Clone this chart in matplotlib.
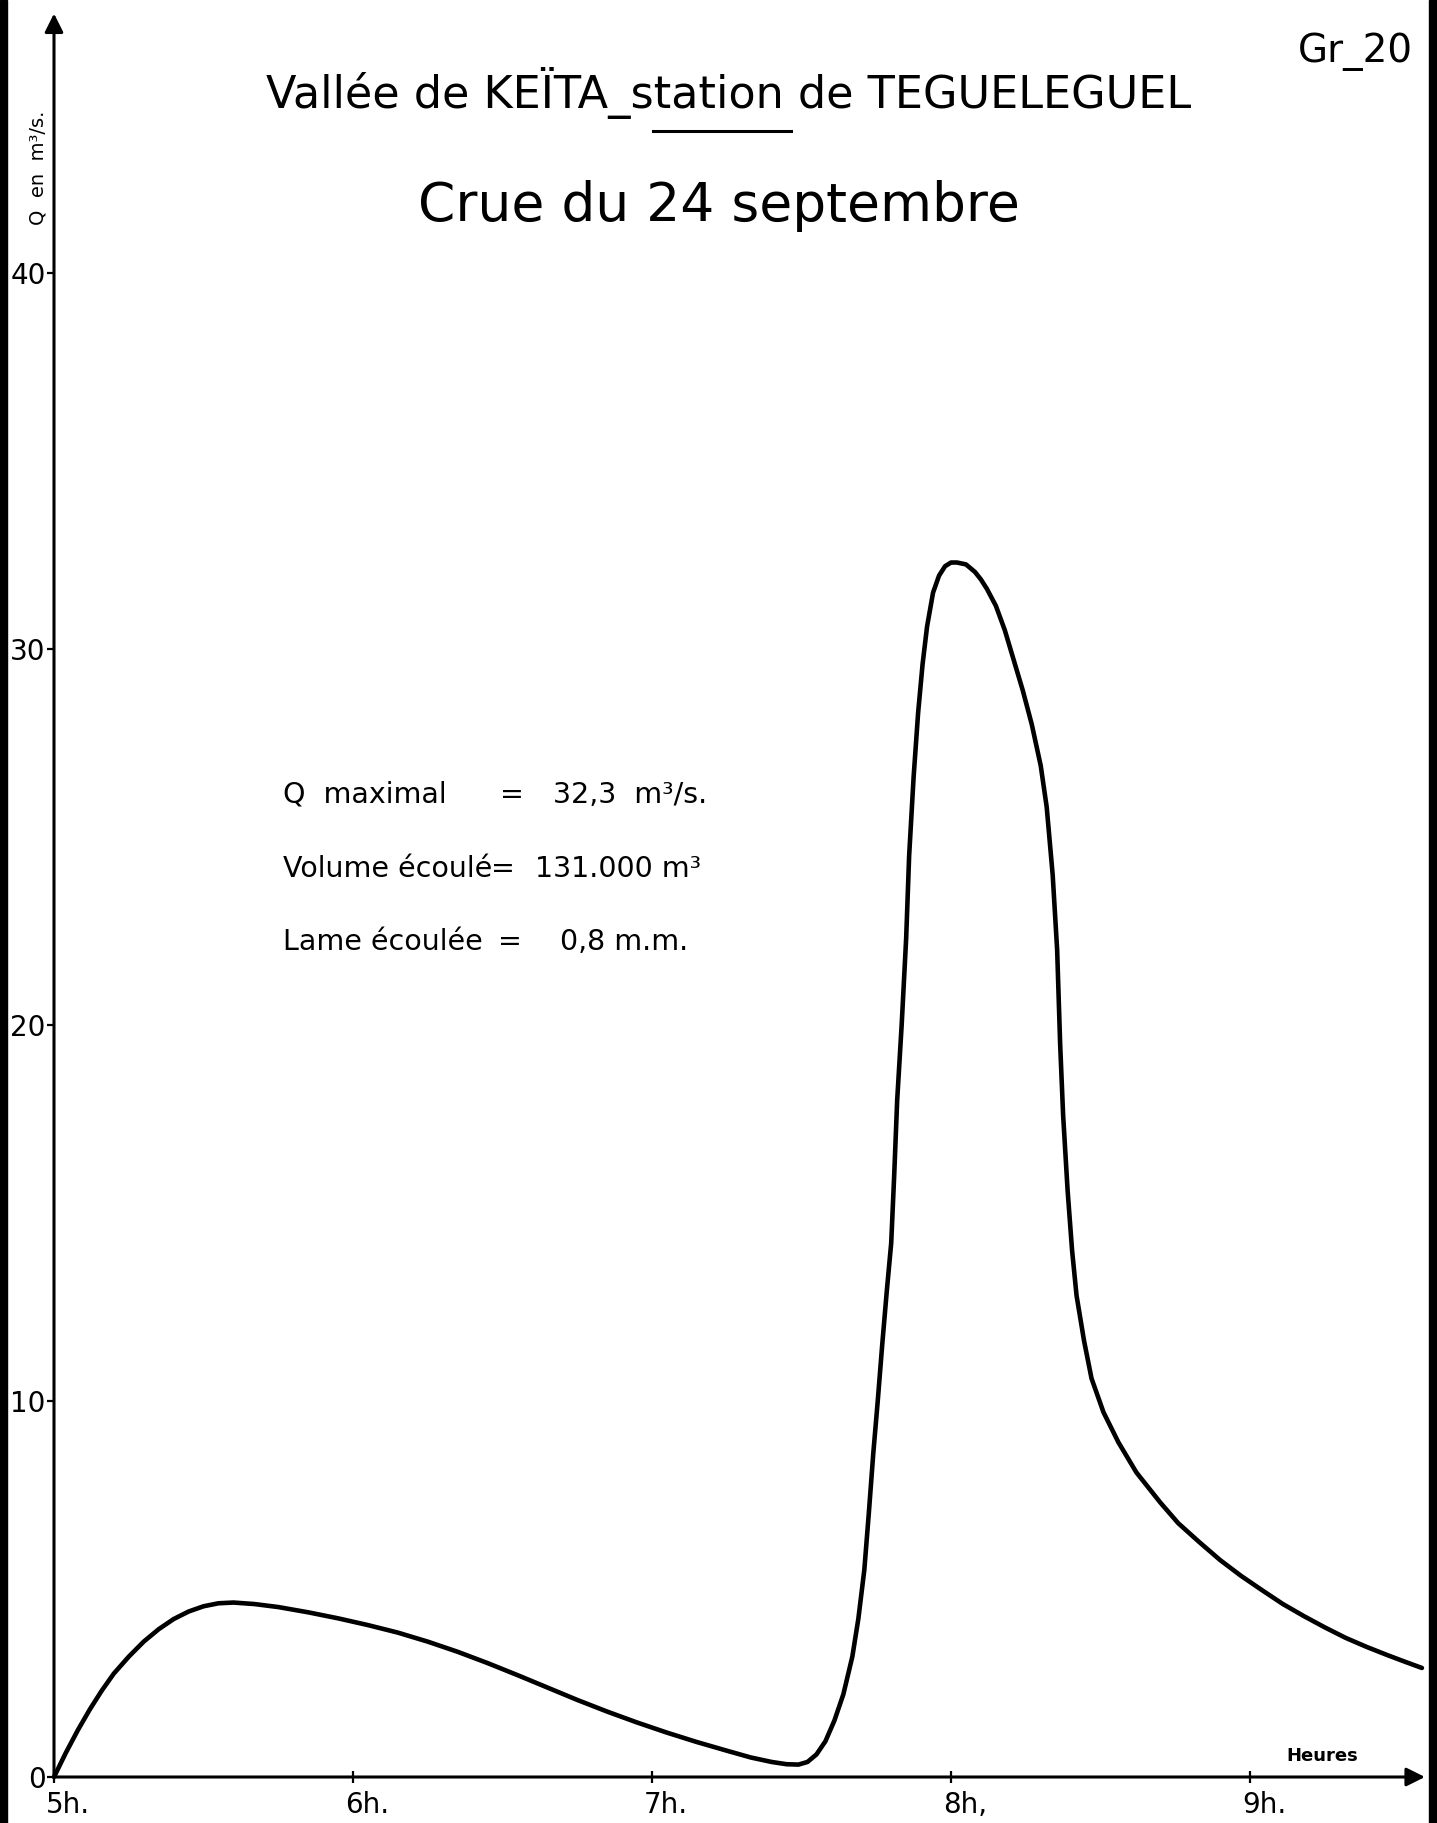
import numpy as np
import matplotlib
matplotlib.use("Agg")
import matplotlib.pyplot as plt
from matplotlib.patches import Rectangle
from matplotlib.lines import Line2D
from matplotlib.transforms import ScaledTranslation

# hydrograph, 24 september (hours, discharge in m3/s)
heures = [5.00, 5.04, 5.08, 5.12, 5.16, 5.20, 5.25, 5.30, 5.35, 5.40,
          5.45, 5.50, 5.55, 5.60, 5.67, 5.75, 5.85, 5.95, 6.05, 6.15,
          6.25, 6.35, 6.45, 6.55, 6.65, 6.75, 6.85, 6.95, 7.05, 7.15,
          7.25, 7.33, 7.40, 7.45, 7.49, 7.52, 7.55, 7.58, 7.61, 7.64,
          7.67, 7.69, 7.71, 7.725, 7.74, 7.755, 7.77, 7.785, 7.80, 7.81,
          7.82, 7.835, 7.85, 7.86, 7.875, 7.89, 7.905, 7.92, 7.94, 7.96,
          7.98, 8.00, 8.02, 8.05, 8.08, 8.10, 8.12, 8.15, 8.18, 8.21,
          8.24, 8.27, 8.30, 8.32, 8.34, 8.355, 8.365, 8.375, 8.39, 8.405,
          8.42, 8.445, 8.47, 8.51, 8.56, 8.62, 8.70, 8.76, 8.83, 8.90,
          8.97, 9.04, 9.11, 9.18, 9.25, 9.32, 9.39, 9.46, 9.52, 9.575]
debit = [0.0, 0.65, 1.25, 1.8, 2.3, 2.75, 3.2, 3.6, 3.93, 4.2,
         4.4, 4.54, 4.62, 4.64, 4.6, 4.52, 4.38, 4.22, 4.04, 3.84,
         3.6, 3.33, 3.03, 2.71, 2.38, 2.05, 1.74, 1.45, 1.18, 0.93,
         0.70, 0.52, 0.40, 0.34, 0.33, 0.40, 0.60, 0.95, 1.5, 2.2,
         3.2, 4.2, 5.5, 7.0, 8.6, 10.0, 11.5, 12.9, 14.2, 16.0,
         18.0, 20.0, 22.3, 24.5, 26.6, 28.3, 29.6, 30.6, 31.5, 31.95,
         32.2, 32.3, 32.3, 32.25, 32.05, 31.85, 31.6, 31.15, 30.5, 29.7,
         28.9, 28.0, 26.9, 25.8, 24.0, 22.0, 19.5, 17.6, 15.6, 14.0,
         12.8, 11.6, 10.6, 9.7, 8.9, 8.1, 7.3, 6.75, 6.25, 5.77,
         5.35, 4.97, 4.6, 4.28, 3.98, 3.70, 3.46, 3.24, 3.06, 2.9]

y_ticks = [0, 10, 20, 30, 40]
x_ticks = [5, 6, 7, 8, 9]
x_labels = ["5h.", "6h.", "7h.", "8h,", "9h."]

bilan_labels = ["Q  maximal", "Volume écoulé", "Lame écoulée"]
bilan_values = ["32,3  m³/s.", "131.000 m³", "0,8 m.m."]

W, H = 1437, 1823
plt.rcParams["font.family"] = "DejaVu Sans"
fig = plt.figure(figsize=(W / 100, H / 100), dpi=100)

def fx(px):
    return px / W

def fy(py):
    return 1 - py / H

ax = fig.add_axes([fx(54), 46 / H, 4.62 * 299 / W, 47.2 * 37.6 / H])
ax.set_xlim(5, 9.62)
ax.set_ylim(0, 47.2)
for s in ax.spines.values():
    s.set_visible(False)

# axes drawn as arrows
arrow = dict(arrowstyle="-|>", lw=2.2, color="black", mutation_scale=28,
             shrinkA=0, shrinkB=0)
ax.annotate("", xy=(5, 46.9), xytext=(5, 0), arrowprops=arrow,
            annotation_clip=False)
ax.annotate("", xy=(9.585, 0), xytext=(5, 0), arrowprops=arrow,
            annotation_clip=False)

ax.plot(heures, debit, color="black", lw=3.3, solid_capstyle="round",
        solid_joinstyle="round", clip_on=False)

ax.set_yticks(y_ticks)
ax.set_yticklabels([str(v) for v in y_ticks], fontsize=20)
ax.set_xticks(x_ticks)
ax.set_xticklabels(x_labels, fontsize=20)
ax.tick_params(axis="y", direction="out", length=5, width=1.6, pad=1)
ax.tick_params(axis="x", direction="inout", length=8, width=1.6, pad=6)
shift = ScaledTranslation(-8 / 100, 0, fig.dpi_scale_trans)
for lab in ax.get_xticklabels():
    lab.set_horizontalalignment("left")
    lab.set_transform(lab.get_transform() + shift)

fig.text(fx(1322), fy(1756), "Heures", fontsize=13, fontweight="bold",
         ha="center", va="center")
fig.text(fx(38), fy(168), "Q  en  m³/s.", rotation=90, fontsize=14,
         ha="center", va="center")

# titles
fig.text(fx(1413), fy(52), "Gr_20", fontsize=28, ha="right", va="center")
fig.text(fx(729), fy(93), "Vallée de KEÏTA_station de TEGUELEGUEL",
         fontsize=32, ha="center", va="center")
fig.add_artist(Line2D([fx(653), fx(791)], [fy(131), fy(131)], color="black",
                      lw=2.2, transform=fig.transFigure))
fig.text(fx(719), fy(206), "Crue du 24 septembre", fontsize=38.5,
         ha="center", va="center")

# flood summary
rows_y = [795, 869, 942]
eq_x = [500, 491, 498]
val_x = [553, 535, 560]
for i in range(3):
    fig.text(fx(283), fy(rows_y[i]), bilan_labels[i], fontsize=20.5,
             ha="left", va="center")
    fig.text(fx(eq_x[i]), fy(rows_y[i]), "=", fontsize=20.5, ha="left",
             va="center")
    fig.text(fx(val_x[i]), fy(rows_y[i]), bilan_values[i], fontsize=20.5,
             ha="left", va="center")

# page edges
fig.add_artist(Rectangle((0, 0), fx(7), 1, color="black",
                         transform=fig.transFigure))
fig.add_artist(Rectangle((fx(1429), 0), fx(8), 1, color="black",
                         transform=fig.transFigure))

fig.savefig("out.png", dpi=100, facecolor="white")
